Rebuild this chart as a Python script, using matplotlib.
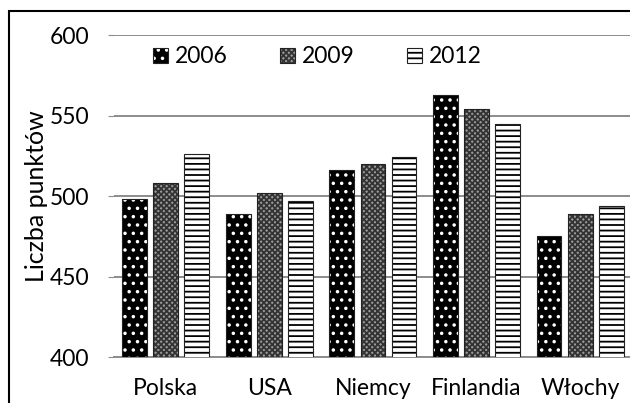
import numpy as np
import matplotlib.pyplot as plt
from matplotlib.patches import Rectangle, Patch

kraje = ['Polska', 'USA', 'Niemcy', 'Finlandia', 'Włochy']
lata = ['2006', '2009', '2012']
wyniki_2006 = [498, 489, 516, 563, 475]
wyniki_2009 = [508, 502, 520, 554, 489]
wyniki_2012 = [526, 497, 524, 545, 494]

plt.rcParams['font.family'] = ['Lato', 'DejaVu Sans']
plt.rcParams['hatch.linewidth'] = 1.3

fig = plt.figure(figsize=(6.3, 4.03), dpi=100)
ax = fig.add_axes([0.181, 0.114, 0.822, 0.799])

x = np.arange(len(kraje))
szer = 0.24
krok = 0.30
style = [
    dict(facecolor='black', edgecolor='white', hatch='..', linewidth=0),
    dict(facecolor='#9a9a9a', edgecolor='#333333', hatch='xxxxxx', linewidth=0),
    dict(facecolor='white', edgecolor='black', hatch='---', linewidth=0),
]
dane = [wyniki_2006, wyniki_2009, wyniki_2012]
for i in range(3):
    ax.bar(x + (i - 1) * krok, dane[i], szer, zorder=3, **style[i])
    # obrys słupka
    ax.bar(x + (i - 1) * krok, dane[i], szer, zorder=4, fill=False,
           edgecolor='#222222', linewidth=0.8)

fs = 16.5
ax.set_xlim(-0.5, 4.5)
ax.set_ylim(400, 600)
ax.set_yticks([400, 450, 500, 550, 600])
ax.set_xticks(x)
ax.set_xticklabels(kraje)
ax.grid(axis='y', color='#8c8c8c', linewidth=1.4, zorder=0)
for s in ['top', 'right', 'left']:
    ax.spines[s].set_visible(False)
ax.spines['bottom'].set_color('#8c8c8c')
ax.spines['bottom'].set_linewidth(1.4)
ax.tick_params(axis='x', length=0, labelsize=fs, pad=15)
ax.tick_params(axis='y', length=4, color='#8c8c8c', labelsize=fs, pad=14)
ax.set_ylabel('Liczba punktów', fontsize=18, labelpad=1)

uchwyty = [(Patch(**style[i]), Patch(fill=False, edgecolor='#222222', linewidth=0.8))
           for i in range(3)]
ax.legend(uchwyty, lata, ncol=3, loc='center left', bbox_to_anchor=(0.035, 0.932),
          frameon=False, fontsize=fs, handlelength=0.65, handleheight=0.65,
          handletextpad=0.3, columnspacing=2.3)

fig.add_artist(Rectangle((9 / 630, -0.1), 1.2, 1 - 11 / 403 + 0.1,
                         transform=fig.transFigure, fill=False,
                         edgecolor='black', linewidth=1.5))

plt.savefig('out.png')
